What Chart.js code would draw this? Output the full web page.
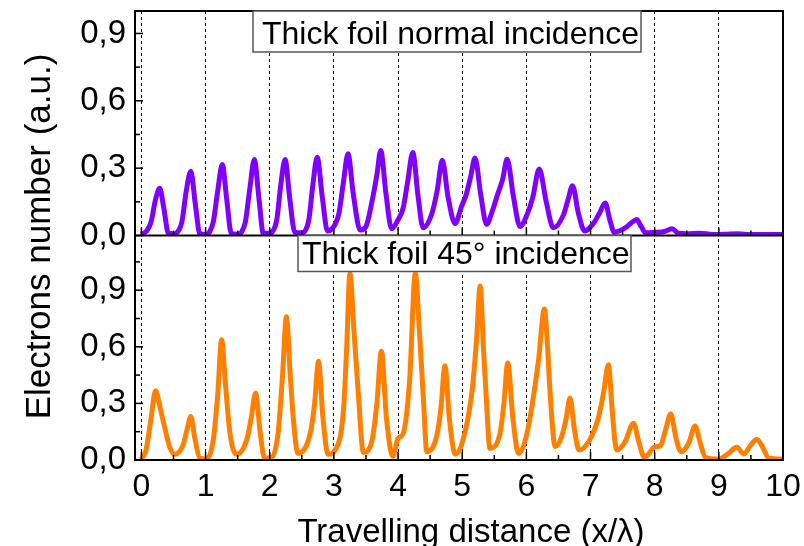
<!DOCTYPE html>
<html>
<head>
<meta charset="utf-8">
<script src="https://cdn.jsdelivr.net/npm/chart.js@4.4.1/dist/chart.umd.min.js"></script>
<style>
  html, body { margin: 0; padding: 0; background: #fff; }
  #wrap { position: relative; width: 804px; height: 546px; }
</style>
</head>
<body>
<div id="wrap"><canvas id="c" width="804" height="546"></canvas></div>
<script>
// 上图：正入射（紫色）
const normalX = [0, 0.08, 0.15, 0.22, 0.285, 0.35, 0.42, 0.5, 0.55, 0.63, 0.70, 0.77, 0.84, 0.91, 1.0,
  1.06, 1.12, 1.19, 1.26, 1.33, 1.40, 1.5, 1.56, 1.62, 1.69, 1.76, 1.83, 1.90, 2.0,
  2.05, 2.11, 2.17, 2.24, 2.31, 2.39, 2.5, 2.55, 2.61, 2.67, 2.74, 2.82, 2.90, 3.02,
  3.08, 3.15, 3.22, 3.30, 3.41, 3.5, 3.61, 3.67, 3.73, 3.81, 3.90, 4.00,
  4.08, 4.15, 4.23, 4.31, 4.39, 4.53, 4.61, 4.69, 4.78, 4.89, 4.99,
  5.06, 5.13, 5.20, 5.29, 5.38, 5.47, 5.56, 5.63, 5.70, 5.80, 5.90, 6.01,
  6.10, 6.20, 6.31, 6.42, 6.58, 6.65, 6.72, 6.81, 6.91, 7.05,
  7.14, 7.23, 7.30, 7.37, 7.54, 7.63, 7.72, 7.79, 7.86, 8.0,
  8.15, 8.27, 8.37, 8.5, 8.7, 8.9, 9.1, 9.3, 9.5, 9.7, 10.0];
const normalY = [0.005, 0.02, 0.06, 0.16, 0.21, 0.12, 0.01, 0.008, 0.012, 0.06, 0.2, 0.286, 0.14, 0.008, 0.005,
  0.015, 0.06, 0.2, 0.316, 0.16, 0.01, 0.006, 0.015, 0.06, 0.21, 0.338, 0.17, 0.01, 0.01,
  0.02, 0.07, 0.22, 0.338, 0.17, 0.015, 0.012, 0.02, 0.07, 0.22, 0.348, 0.17, 0.02, 0.05,
  0.1, 0.24, 0.364, 0.19, 0.024, 0.04, 0.175, 0.27, 0.379, 0.19, 0.03, 0.07,
  0.123, 0.24, 0.37, 0.18, 0.034, 0.10, 0.2, 0.335, 0.17, 0.053, 0.13,
  0.18, 0.26, 0.345, 0.18, 0.05, 0.11, 0.19, 0.25, 0.34, 0.17, 0.04, 0.093,
  0.17, 0.296, 0.15, 0.034, 0.093, 0.16, 0.222, 0.1, 0.02, 0.056,
  0.1, 0.145, 0.07, 0.015, 0.034, 0.055, 0.071, 0.04, 0.012, 0.014,
  0.018, 0.03, 0.01, 0.008, 0.01, 0.005, 0.006, 0.008, 0.004, 0.005, 0.005];

// 下图：45° 入射（橙色）
const obliqueX = [0, 0.07, 0.15, 0.22, 0.29, 0.36, 0.44, 0.52, 0.65, 0.71, 0.77, 0.83, 0.91, 1.0,
  1.12, 1.19, 1.25, 1.31, 1.38, 1.48, 1.64, 1.71, 1.78, 1.85, 1.92, 2.0,
  2.13, 2.2, 2.26, 2.32, 2.37, 2.44, 2.63, 2.7, 2.76, 2.83, 2.91, 3.02,
  3.15, 3.2, 3.25, 3.31, 3.38, 3.46, 3.59, 3.67, 3.74, 3.82, 3.92, 4.0, 4.08,
  4.18, 4.27, 4.33, 4.39, 4.45, 4.6, 4.67, 4.73, 4.8, 4.89, 4.99,
  5.15, 5.22, 5.28, 5.33, 5.38, 5.43, 5.59, 5.65, 5.71, 5.79, 5.88, 6.01,
  6.19, 6.28, 6.33, 6.37, 6.45, 6.55, 6.62, 6.68, 6.75, 6.82, 6.97,
  7.12, 7.2, 7.28, 7.33, 7.38, 7.41, 7.54, 7.67, 7.75, 7.84, 8.01, 8.09,
  8.17, 8.25, 8.33, 8.41, 8.53, 8.63, 8.71, 8.79, 9.0,
  9.15, 9.28, 9.39, 9.5, 9.59, 9.68, 9.78, 10.0];
const obliqueY = [0.005, 0.05, 0.22, 0.367, 0.28, 0.177, 0.07, 0.03, 0.08, 0.16, 0.23, 0.12, 0.01, 0.005,
  0.106, 0.35, 0.638, 0.4, 0.143, 0.03, 0.106, 0.22, 0.355, 0.15, 0.01, 0.01,
  0.142, 0.45, 0.759, 0.45, 0.21, 0.035, 0.14, 0.3, 0.523, 0.22, 0.03, 0.053,
  0.266, 0.6, 0.99, 0.7, 0.355, 0.04, 0.097, 0.3, 0.576, 0.22, 0.02, 0.115, 0.14,
  0.42, 0.99, 0.7, 0.355, 0.044, 0.124, 0.28, 0.5, 0.22, 0.032, 0.08,
  0.355, 0.62, 0.922, 0.6, 0.3, 0.062, 0.142, 0.3, 0.514, 0.22, 0.035, 0.142,
  0.53, 0.80, 0.6, 0.355, 0.071, 0.124, 0.22, 0.328, 0.16, 0.053, 0.097,
  0.22, 0.35, 0.505, 0.3, 0.1, 0.053, 0.097, 0.195, 0.1, 0.014, 0.071, 0.075,
  0.16, 0.245, 0.12, 0.044, 0.089, 0.18, 0.09, 0.014, 0.005,
  0.035, 0.067, 0.032, 0.08, 0.11, 0.07, 0.01, 0.005];

// 刻度
const xTicks = [0, 1, 2, 3, 4, 5, 6, 7, 8, 9, 10];
const xMinorTicks = [0.5, 1.5, 2.5, 3.5, 4.5, 5.5, 6.5, 7.5, 8.5, 9.5];
const yTicks = [0, 0.3, 0.6, 0.9];
const yMinorTop = [0.15, 0.45, 0.75];
const yMinorBottom = [0.15, 0.45, 0.75, 1.05];

const panelLabels = ['Thick foil normal incidence', 'Thick foil 45° incidence'];
const xTitle = 'Travelling distance (x/λ)';
const yTitle = 'Electrons number (a.u.)';

const FONT = '"Liberation Sans", Arial, sans-serif';

const toPoints = (xs, ys) => xs.map((x, i) => ({ x: x, y: ys[i] }));
const fmt = v => v.toFixed(1).replace('.', ',');

// 画框、内向刻度、标签框和坐标轴标题
const framePlugin = {
  id: 'framePlugin',
  afterDraw(chart) {
    const { ctx, chartArea: a, scales } = chart;
    const xs = scales.x, yTop = scales.yTop, yBot = scales.yBot;
    const mid = yTop.getPixelForValue(0);
    const seg = (x1, y1, x2, y2) => { ctx.beginPath(); ctx.moveTo(x1, y1); ctx.lineTo(x2, y2); ctx.stroke(); };

    ctx.save();
    ctx.strokeStyle = '#000';
    ctx.lineWidth = 2;
    ctx.strokeRect(a.left, a.top, a.right - a.left, a.bottom - a.top);
    seg(a.left, mid, a.right, mid);

    ctx.lineWidth = 1.5;
    [a.bottom, mid].forEach(base => {
      xTicks.forEach(v => { const p = xs.getPixelForValue(v); seg(p, base, p, base - 8); });
      xMinorTicks.forEach(v => { const p = xs.getPixelForValue(v); seg(p, base, p, base - 5); });
    });
    [[yTop, yMinorTop], [yBot, yMinorBottom]].forEach(([s, minor]) => {
      yTicks.forEach(v => { const p = s.getPixelForValue(v); seg(a.left, p, a.left + 8, p); });
      minor.forEach(v => { const p = s.getPixelForValue(v); seg(a.left, p, a.left + 5, p); });
    });

    // 标签框
    ctx.font = '32px ' + FONT;
    ctx.textAlign = 'left';
    ctx.textBaseline = 'alphabetic';
    const boxes = [
      { text: panelLabels[0], left: 253, top: a.top, w: 388, h: 41, tx: 262, ty: a.top + 32.5 },
      { text: panelLabels[1], left: 298, top: mid, w: 333, h: 36, tx: 302, ty: mid + 28.5 }
    ];
    boxes.forEach(b => {
      ctx.fillStyle = '#fff';
      ctx.fillRect(b.left, b.top, b.w, b.h);
      ctx.strokeStyle = '#555';
      ctx.lineWidth = 1.5;
      ctx.strokeRect(b.left, b.top, b.w, b.h);
      ctx.fillStyle = '#000';
      ctx.fillText(b.text, b.tx, b.ty);
    });

    // 坐标轴标题
    ctx.fillStyle = '#000';
    ctx.font = '33px ' + FONT;
    ctx.textAlign = 'center';
    ctx.fillText(xTitle, 471, 542);
    ctx.translate(50, (a.top + a.bottom) / 2 + 1);
    ctx.rotate(-Math.PI / 2);
    ctx.font = '35px ' + FONT;
    ctx.fillText(yTitle, 0, 0);
    ctx.restore();
  }
};

const yScale = (max) => ({
  type: 'linear',
  position: 'left',
  stack: 'panels',
  stackWeight: 1,
  min: 0,
  max: max,
  afterBuildTicks: s => { s.ticks = yTicks.map(v => ({ value: v })); },
  afterFit: s => { s.width = 135; s.paddingTop = 0; s.paddingBottom = 0; },
  ticks: { callback: v => fmt(v), font: { family: FONT, size: 33 }, color: '#000', padding: 9 },
  grid: { display: false, drawTicks: false },
  border: { display: false }
});

new Chart(document.getElementById('c'), {
  type: 'line',
  data: {
    datasets: [
      {
        data: toPoints(normalX, normalY), yAxisID: 'yTop',
        borderColor: '#8000ff', borderWidth: 5, pointRadius: 0,
        tension: 0.4, cubicInterpolationMode: 'monotone'
      },
      {
        data: toPoints(obliqueX, obliqueY), yAxisID: 'yBot',
        borderColor: '#ff8000', borderWidth: 5, pointRadius: 0,
        tension: 0.4, cubicInterpolationMode: 'monotone'
      }
    ]
  },
  options: {
    responsive: false,
    animation: false,
    layout: { padding: { top: 11, right: 21, left: 0, bottom: 0 } },
    plugins: { legend: { display: false }, tooltip: { enabled: false } },
    scales: {
      x: {
        type: 'linear', min: -0.1, max: 10,
        afterBuildTicks: s => { s.ticks = xTicks.map(v => ({ value: v })); },
        afterFit: s => { s.height = 86; s.paddingLeft = 0; s.paddingRight = 0; },
        ticks: { font: { family: FONT, size: 32 }, color: '#000', padding: 8, maxRotation: 0, autoSkip: false },
        grid: { color: '#000', lineWidth: 1, drawTicks: false },
        border: { display: false, dash: [3, 3] }
      },
      yBot: yScale(1.19),
      yTop: yScale(1.0)
    }
  },
  plugins: [framePlugin]
});
</script>
</body>
</html>
